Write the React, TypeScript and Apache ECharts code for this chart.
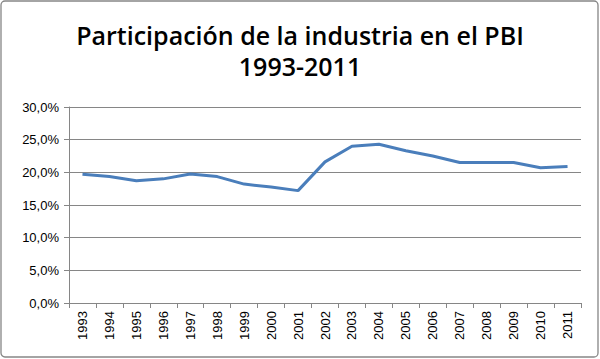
import React, { useEffect, useRef } from "react";
import * as echarts from "echarts";

const years = ["1993","1994","1995","1996","1997","1998","1999","2000","2001","2002","2003","2004","2005","2006","2007","2008","2009","2010","2011"];
const industryShare = [19.7, 19.35, 18.7, 19.0, 19.75, 19.35, 18.2, 17.75, 17.2, 21.6, 24.0, 24.3, 23.3, 22.5, 21.5, 21.5, 21.5, 20.7, 20.9];
const titleLines = ["Participación de la industria en el PBI", "1993-2011"];

export default function App() {
  const ref = useRef<HTMLDivElement>(null);
  useEffect(() => {
    if (!ref.current) return;
    const chart = echarts.init(ref.current, null, { renderer: "svg" });
    chart.setOption({
      animation: false,
      backgroundColor: "#ffffff",
      title: {
        text: titleLines.join("\n"),
        left: "center",
        top: 14,
        textStyle: {
          fontFamily: "Open Sans",
          fontWeight: 600,
          fontSize: 25,
          lineHeight: 31,
          color: "#000000",
        },
      },
      graphic: [
        {
          type: "rect",
          shape: { x: 1, y: 1, width: 597, height: 356, r: 4 },
          style: { fill: "none", stroke: "#868686", lineWidth: 1.3 },
          silent: true,
          z: 100,
        },
      ],
      grid: { left: 69, right: 19, top: 107, bottom: 56 },
      xAxis: {
        type: "category",
        data: years,
        boundaryGap: true,
        axisLine: { lineStyle: { color: "#868686", width: 1 } },
        axisTick: { show: true, alignWithLabel: false, length: 5, lineStyle: { color: "#868686" } },
        axisLabel: {
          rotate: 90,
          interval: 0,
          fontFamily: "Liberation Sans",
          fontSize: 13,
          color: "#000000",
          margin: 8,
        },
      },
      yAxis: {
        type: "value",
        min: 0,
        max: 30,
        interval: 5,
        axisLine: { show: true, lineStyle: { color: "#868686", width: 1 } },
        axisTick: { show: true, length: 5, lineStyle: { color: "#868686" } },
        splitLine: { lineStyle: { color: "#868686", width: 1 } },
        axisLabel: {
          formatter: (v: number) => v.toFixed(1).replace(".", ",") + "%",
          fontFamily: "Liberation Sans",
          fontSize: 13,
          color: "#000000",
          margin: 10,
        },
      },
      series: [
        {
          type: "line",
          data: industryShare,
          symbol: "none",
          lineStyle: { color: "#4a7ebb", width: 3 },
        },
      ],
    });
    return () => chart.dispose();
  }, []);
  return <div ref={ref} style={{ width: 600, height: 359, position: "absolute", left: 0, top: 0 }} />;
}
